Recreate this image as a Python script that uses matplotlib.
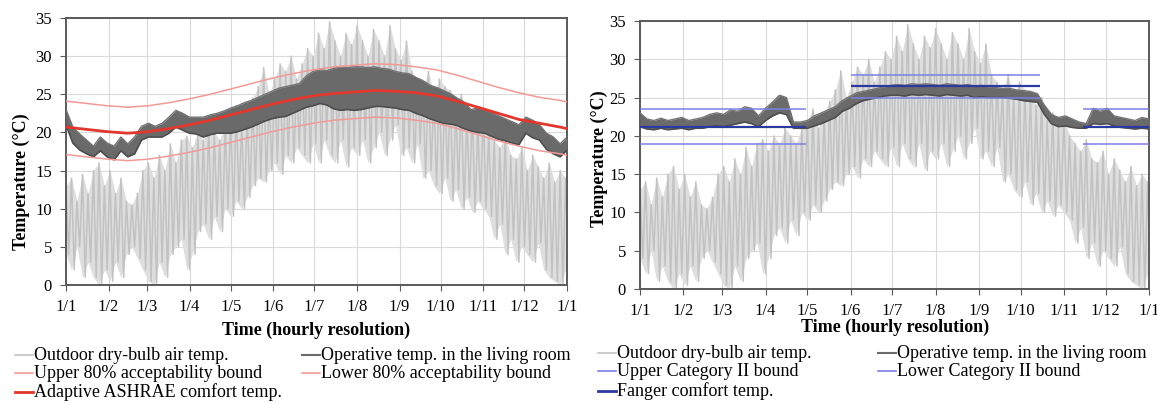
import numpy as np
import matplotlib
matplotlib.use("Agg")
import matplotlib.pyplot as plt
from matplotlib.lines import Line2D

plt.rcParams["font.family"] = ["Liberation Serif", "DejaVu Serif"]

# month starts (day of year) and their tick labels
MONTH_DAYS = [0, 31, 59, 90, 120, 151, 181, 212, 243, 273, 304, 334, 365]
MONTH_LABELS = ["1/1", "1/2", "1/3", "1/4", "1/5", "1/6", "1/7", "1/8",
                "1/9", "1/10", "1/11", "1/12", "1/1"]

# outdoor dry-bulb temp: daily-ish highs and lows read every 4 days
OUT_DAYS = np.arange(0, 365, 4)
OUT_HIGH = [13, 14, 11, 14.5, 12, 15, 16, 13, 15, 12, 14, 11, 10.5, 12, 15,
            16, 14, 17, 15, 18.5, 16, 19, 19.5, 18, 20, 19, 21, 20, 19, 21,
            22, 23.5, 21, 23, 24.5, 26, 28.5, 25, 27, 29, 28, 30, 27, 29, 31,
            30, 33, 31, 34.5, 32, 30, 33, 31.5, 34, 32, 30, 33.5, 32, 30, 34,
            31, 29.5, 32, 28, 27, 26, 28, 25, 27, 26, 25.5, 24, 25, 22, 23,
            21, 22.5, 20, 19, 18, 19.5, 17, 16.5, 18, 15, 17, 15.5, 14, 16,
            13.5, 15, 14]
OUT_LOW = [4, 2, 5, 1, 3, 1, 0, 2, 0.5, 3, 1, 4, 5, 3.5, 2, 0.5, 0, 3, 1, 4,
           5, 6, 2, 4, 7, 8, 6, 9, 7, 10, 9, 11, 10, 11.5, 13, 14, 13.5, 15,
           16, 14.5, 17, 16, 18, 17, 16, 18.5, 16, 19, 17, 16, 19, 15.5, 18,
           17, 19, 16, 18, 20, 17, 19, 21, 17, 18, 16, 18.5, 14, 15, 13, 12,
           14, 11, 12.5, 10, 11.5, 9.5, 11, 10, 9, 6, 8, 4, 6, 3, 5, 4, 3,
           5.5, 2, 1, 0.5, 0, 2]

# operative temperature in the living room, envelope every 5 days
OP_DAYS = np.arange(0, 366, 5)
LEFT_OP_HIGH = [23.0, 20.7, 19.8, 19.0, 18.2, 19.4, 18.6, 18.2, 19.4, 18.5,
                19.4, 20.8, 21.2, 20.8, 21.2, 22.0, 22.9, 22.5, 22.0, 22.0,
                22.0, 22.3, 22.5, 22.8, 23.2, 23.5, 23.9, 24.2, 24.6, 25.0,
                25.4, 25.8, 26.0, 26.2, 26.4, 27.4, 28.0, 28.2, 28.1, 28.4,
                28.6, 28.5, 28.6, 28.6, 28.5, 28.6, 28.4, 28.3, 28.0, 27.8,
                27.7, 27.2, 26.8, 26.2, 25.9, 25.5, 25.1, 24.5, 24.0, 23.0,
                23.2, 22.9, 22.6, 22.2, 21.8, 21.4, 21.0, 22.0, 21.6, 21.0,
                19.9, 19.4, 18.5, 19.4]
LEFT_OP_LOW = [21.0, 18.6, 17.7, 17.2, 16.8, 17.6, 16.8, 16.4, 17.6, 16.8,
               17.2, 19.0, 19.4, 19.4, 19.4, 19.9, 20.7, 20.3, 19.9, 19.8,
               19.4, 19.7, 19.9, 19.9, 19.9, 20.1, 20.4, 20.7, 21.1, 21.5,
               21.8, 22.0, 22.1, 22.5, 22.9, 23.3, 23.5, 23.8, 23.6, 23.1,
               22.9, 23.0, 22.9, 23.0, 23.2, 23.4, 23.4, 23.3, 23.2, 23.0,
               22.9, 22.5, 22.2, 21.8, 21.5, 21.2, 21.1, 20.9, 20.5, 20.2,
               20.0, 19.9, 19.5, 19.1, 18.9, 18.6, 18.4, 19.9, 19.3, 19.0,
               17.8, 17.2, 16.8, 17.7]
RIGHT_OP_HIGH = [23.0, 22.2, 22.0, 22.3, 22.0, 22.2, 22.4, 22.0, 22.2, 22.4,
                 22.8, 23.0, 22.8, 23.4, 23.2, 23.8, 23.6, 22.6, 23.6, 24.4,
                 25.3, 25.0, 21.8, 21.8, 22.0, 22.6, 23.0, 23.4, 23.8, 24.6,
                 25.1, 25.6, 25.8, 26.0, 26.2, 26.4, 26.6, 26.7, 26.6, 26.8,
                 26.7, 26.8, 26.7, 26.6, 26.8, 26.7, 26.6, 26.7, 26.5, 26.6,
                 26.4, 26.3, 26.2, 26.2, 26.0, 25.9, 25.8, 25.5, 24.0, 22.8,
                 22.4, 22.6, 22.2, 21.8, 21.6, 23.6, 23.2, 23.6, 22.6, 22.4,
                 22.2, 22.0, 22.4, 22.2]
RIGHT_OP_LOW = [21.2, 20.9, 20.8, 21.0, 20.8, 20.9, 21.0, 20.8, 21.0, 21.0,
                21.2, 21.3, 21.2, 21.4, 21.6, 21.8, 21.6, 21.2, 22.0, 22.6,
                23.0, 22.8, 21.0, 21.0, 21.0, 21.3, 21.6, 22.0, 22.4, 23.2,
                23.6, 24.2, 24.6, 24.8, 25.0, 25.2, 25.3, 25.3, 25.2, 25.4,
                25.3, 25.4, 25.3, 25.2, 25.4, 25.3, 25.2, 25.3, 25.0, 25.1,
                25.0, 25.0, 25.0, 24.9, 24.8, 24.6, 24.5, 24.4, 22.8, 21.6,
                21.2, 21.3, 21.1, 21.0, 21.0, 21.6, 21.5, 21.6, 21.3, 21.1,
                21.0, 20.9, 21.0, 20.9]

# adaptive ASHRAE comfort temp and 80% bounds
ASH_DAYS = [0, 15, 30, 45, 60, 75, 90, 105, 120, 135, 150, 165, 180, 195,
            210, 225, 240, 255, 270, 285, 300, 315, 330, 345, 360, 365]
ASH_COMFORT = [20.7, 20.4, 20.1, 19.9, 20.1, 20.5, 21.0, 21.6, 22.3, 23.0,
               23.7, 24.3, 24.8, 25.1, 25.3, 25.5, 25.4, 25.2, 24.8, 24.1,
               23.3, 22.5, 21.7, 21.2, 20.7, 20.5]
ASH_UPPER = [24.1, 23.8, 23.5, 23.3, 23.5, 23.9, 24.4, 25.0, 25.7, 26.4,
             27.1, 27.7, 28.2, 28.6, 28.8, 29.0, 28.9, 28.6, 28.2, 27.5,
             26.7, 25.9, 25.2, 24.6, 24.2, 24.0]
ASH_LOWER = [17.1, 16.8, 16.5, 16.3, 16.5, 16.9, 17.4, 18.0, 18.7, 19.4,
             20.1, 20.7, 21.2, 21.6, 21.8, 22.0, 21.9, 21.6, 21.2, 20.5,
             19.7, 18.9, 18.2, 17.6, 17.2, 17.0]

# Fanger comfort temp and Category II bounds (heating / cooling / heating)
FANGER_START = [0, 151, 318]
FANGER_END = [119, 287, 365]
FANGER_COMFORT = [21.2, 26.5, 21.2]
FANGER_UPPER = [23.5, 27.9, 23.5]
FANGER_LOWER = [18.9, 25.0, 18.9]

C_OUT = "#c2c2c2"
C_OUT_FILL = "#dedede"
C_OP = "#6a6a6a"
C_OP_EDGE = "#4e4e4e"
C_RED = "#e2372d"
C_RED_LIGHT = "#f29a96"
C_BLUE = "#2c3aa0"
C_BLUE_LIGHT = "#7b80e6"


def zigzag(days, high, low, gap):
    xs = np.column_stack([days, np.asarray(days) + gap]).ravel()
    ys = np.column_stack([high, low]).ravel()
    return xs, ys


def draw_base(ax, op_high, op_low):
    # outdoor: filled envelope plus hourly-like swings
    ax.fill_between(OUT_DAYS, OUT_LOW, OUT_HIGH, color=C_OUT_FILL, lw=0, zorder=2)
    xs, ys = zigzag(OUT_DAYS, OUT_HIGH, OUT_LOW, 2)
    ax.plot(xs, ys, color=C_OUT, lw=1.1, zorder=2)
    # operative temp band
    ax.fill_between(OP_DAYS, op_low, op_high, color=C_OP, lw=0, zorder=3)
    ax.plot(OP_DAYS, op_low, color=C_OP_EDGE, lw=1.2, zorder=3)
    ax.plot(OP_DAYS, op_high, color="#747474", lw=1.0, zorder=3)


def style_axes(ax):
    ax.set_xlim(0, 365)
    ax.set_ylim(0, 35)
    ax.set_yticks(range(0, 36, 5))
    ax.set_xticks(MONTH_DAYS)
    ax.set_xticklabels(MONTH_LABELS)
    ax.grid(True, color="#dadada", lw=0.8, zorder=0)
    ax.set_axisbelow(True)
    for sp in ax.spines.values():
        sp.set_color("#5a5a5a")
        sp.set_linewidth(1.4)
    ax.tick_params(axis="both", labelsize=12, color="#5a5a5a", length=4,
                   direction="out")
    ax.tick_params(axis="x", pad=6)
    ax.tick_params(axis="y", pad=6)


def legend_block(fig, entries, x_cols, y_rows):
    W, H = 1157, 403
    slots = [(x_cols[0], y_rows[0]), (x_cols[0], y_rows[1]), (x_cols[0], y_rows[2]),
             (x_cols[1], y_rows[0]), (x_cols[1], y_rows[1])]
    for (label, color, lw), (xc, yr) in zip(entries, slots):
        fig.add_artist(Line2D([xc / W, (xc + 18) / W], [1 - yr / H, 1 - yr / H],
                              color=color, lw=lw, transform=fig.transFigure))
        fig.text((xc + 19) / W, 1 - yr / H, label, fontsize=13,
                 va="center", ha="left")


fig = plt.figure(figsize=(11.57, 4.03), dpi=100)

# left panel: adaptive ASHRAE
ax1 = fig.add_axes([66 / 1157, 1 - 285 / 403, 501 / 1157, 267 / 403])
draw_base(ax1, LEFT_OP_HIGH, LEFT_OP_LOW)
ax1.plot(ASH_DAYS, ASH_UPPER, color=C_RED_LIGHT, lw=1.1, zorder=4)
ax1.plot(ASH_DAYS, ASH_LOWER, color=C_RED_LIGHT, lw=1.1, zorder=4)
ax1.plot(ASH_DAYS, ASH_COMFORT, color=C_RED, lw=2.0, zorder=5)
style_axes(ax1)
fig.text(21 / 1157, 1 - 182 / 403, "Temperature (\u00b0C)", rotation=90,
         fontsize=13, fontweight="bold", ha="center", va="center")
fig.text(316 / 1157, 1 - 330 / 403, "Time (hourly resolution)", fontsize=13,
         fontweight="bold", ha="center", va="center")

# right panel: Fanger
ax2 = fig.add_axes([640 / 1157, 1 - 289 / 403, 509 / 1157, 268 / 403])
draw_base(ax2, RIGHT_OP_HIGH, RIGHT_OP_LOW)
ax2.hlines(FANGER_UPPER, FANGER_START, FANGER_END, color=C_BLUE_LIGHT, lw=1.1, zorder=4)
ax2.hlines(FANGER_LOWER, FANGER_START, FANGER_END, color=C_BLUE_LIGHT, lw=1.1, zorder=4)
ax2.hlines(FANGER_COMFORT, FANGER_START, FANGER_END, color=C_BLUE, lw=1.6, zorder=5)
style_axes(ax2)
fig.text(599 / 1157, 1 - 159 / 403, "Temperature (\u00b0C)", rotation=90,
         fontsize=13, fontweight="bold", ha="center", va="center")
fig.text(895 / 1157, 1 - 327 / 403, "Time (hourly resolution)", fontsize=13,
         fontweight="bold", ha="center", va="center")

legend_block(fig, [("Outdoor dry-bulb air temp.", C_OUT, 1.2),
                   ("Upper 80% acceptability bound", C_RED_LIGHT, 1.2),
                   ("Adaptive ASHRAE comfort temp.", C_RED, 2.0),
                   ("Operative temp. in the living room", C_OP, 1.5),
                   ("Lower 80% acceptability bound", C_RED_LIGHT, 1.2)],
             [15, 302], [355, 373, 392])
legend_block(fig, [("Outdoor dry-bulb air temp.", C_OUT, 1.2),
                   ("Upper Category II bound", C_BLUE_LIGHT, 1.2),
                   ("Fanger comfort temp.", C_BLUE, 2.0),
                   ("Operative temp. in the living room", C_OP, 1.5),
                   ("Lower Category II bound", C_BLUE_LIGHT, 1.2)],
             [598, 878], [353, 371, 391])

fig.savefig("out.png", dpi=100)
